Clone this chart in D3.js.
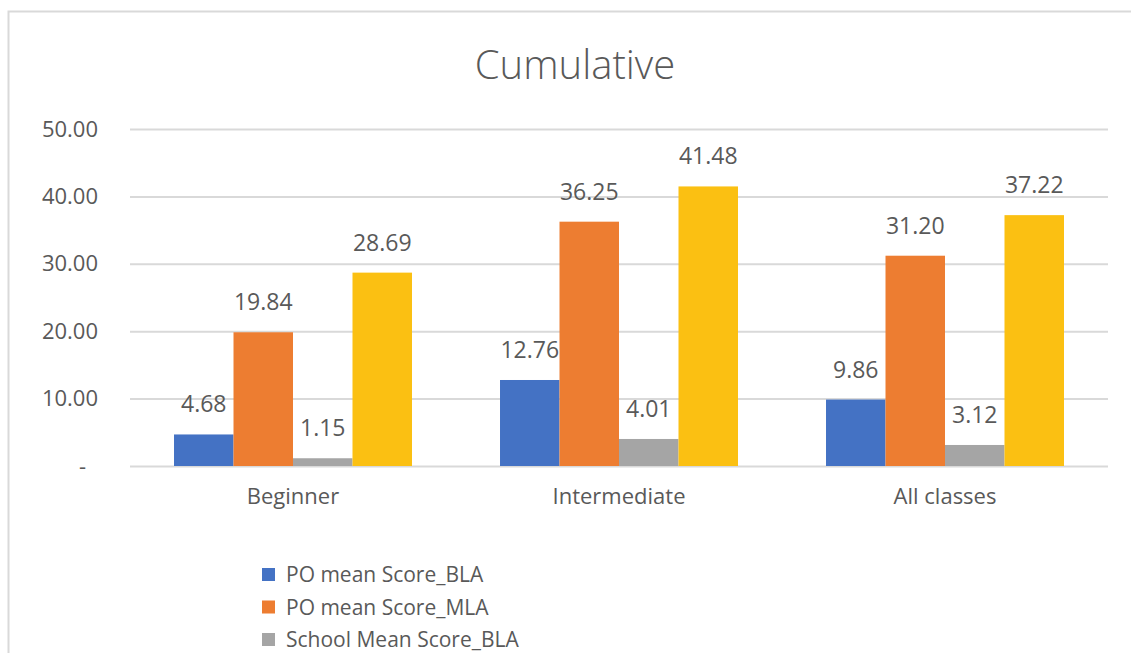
<!DOCTYPE html>
<html>
<head>
<meta charset="utf-8">
<script src="https://cdn.jsdelivr.net/npm/d3@7"></script>
<style>
  body { margin: 0; background: #fff; }
  svg text { font-family: "Open Sans", "Noto Sans", sans-serif; fill: #595959; }
</style>
</head>
<body>
<svg id="chart"></svg>
<script>
// chart values
let categories = ["Beginner", "Intermediate", "All classes"];
let seriesNames = ["PO mean Score_BLA", "PO mean Score_MLA", "School Mean Score_BLA", "School Mean Score_MLA"];
let poBLA = [4.68, 12.76, 9.86];
let poMLA = [19.84, 36.25, 31.20];
let schoolBLA = [1.15, 4.01, 3.12];
let schoolMLA = [28.69, 41.48, 37.22];
let yTicks = [0, 10, 20, 30, 40, 50];

let colors = ["#4472C4", "#ED7D31", "#A5A5A5", "#FBC012"];

let w = 1131, h = 653;
let margin = { top: 129, right: 23, bottom: 187, left: 130 };

let svg = d3.select("#chart")
    .attr("width", w)
    .attr("height", h);

// chart area border (runs past the right/bottom edge like the screenshot)
svg.append("rect")
    .attr("x", 8.5)
    .attr("y", 11.5)
    .attr("width", w + 20)
    .attr("height", h + 20)
    .attr("fill", "#fff")
    .attr("stroke", "#d9d9d9")
    .attr("stroke-width", 2)

let values = [poBLA, poMLA, schoolBLA, schoolMLA];
let data = categories.map((c, i) => ({
    category: c,
    vals: seriesNames.map((s, j) => ({ series: s, idx: j, value: values[j][i] }))
}));

let xScale = d3.scaleBand()
    .domain(categories)
    .range([margin.left, w - margin.right])
    .paddingInner(0.27)
    .paddingOuter(0.135)

let xInner = d3.scaleBand()
    .domain(seriesNames)
    .range([0, xScale.bandwidth()])
    .padding(0)

let yScale = d3.scaleLinear()
    .domain([0, 50])
    .range([h - margin.bottom, margin.top])

//gridlines + tick labels
let yAxis = d3.axisLeft(yScale)
    .tickValues(yTicks)
    .tickSize(-(w - margin.left - margin.right))
    .tickPadding(32)
    .tickFormat(d => d === 0 ? "-" : d3.format(".2f")(d))

let yg = svg.append("g")
    .attr("class", "y axis")
    .attr("transform", "translate(" + margin.left + ",0)")
    .call(yAxis)
yg.select(".domain").remove()
yg.selectAll(".tick line").attr("stroke", "#d9d9d9").attr("stroke-width", 2)
yg.selectAll(".tick text")
    .attr("font-size", 22)
    .style("font-family", "'Open Sans', sans-serif")
    .attr("fill", "#595959")
    .attr("dx", d => d === 0 ? -12 : 0)

let xAxis = d3.axisBottom(xScale)
    .tickSize(0)
    .tickPadding(22)

let xg = svg.append("g")
    .attr("class", "x axis")
    .attr("transform", "translate(0," + (h - margin.bottom) + ")")
    .call(xAxis)
xg.select(".domain").remove()
xg.selectAll(".tick text")
    .attr("font-size", 22)
    .style("font-family", "'Open Sans', sans-serif")
    .attr("fill", "#595959")

let groups = svg.selectAll("g.group")
    .data(data)
    .enter()
    .append("g")
    .attr("class", "group")
    .attr("transform", d => "translate(" + xScale(d.category) + ",0)")

groups.selectAll("rect")
    .data(d => d.vals)
    .enter()
    .append("rect")
    .attr("x", d => xInner(d.series))
    .attr("y", d => yScale(d.value))
    .attr("width", xInner.bandwidth())
    .attr("height", d => yScale(0) - yScale(d.value))
    .attr("fill", d => colors[d.idx])

//data labels above bars
groups.selectAll("text.label")
    .data(d => d.vals)
    .enter()
    .append("text")
    .attr("class", "label")
    .attr("x", d => xInner(d.series) + xInner.bandwidth() / 2)
    .attr("y", d => yScale(d.value) - 22)
    .attr("text-anchor", "middle")
    .attr("font-size", 23)
    .text(d => d3.format(".2f")(d.value))

svg.append("text")
    .attr("id", "title")
    .attr("x", 575)
    .attr("y", 79)
    .attr("text-anchor", "middle")
    .attr("font-size", 40)
    .attr("font-weight", 300)
    .text("Cumulative")

// legend: only the first three rows fit inside the picture
let legend = svg.selectAll("g.legend")
    .data(seriesNames.slice(0, 3))
    .enter()
    .append("g")
    .attr("class", "legend")
    .attr("transform", (d, i) => "translate(262," + (575 + i * 32.5) + ")")

legend.append("rect")
    .attr("x", 0)
    .attr("y", -7)
    .attr("width", 13)
    .attr("height", 13)
    .attr("fill", (d, i) => colors[i])

legend.append("text")
    .attr("x", 24)
    .attr("y", 7)
    .attr("font-size", 21)
    .text(d => d)
</script>
</body>
</html>
